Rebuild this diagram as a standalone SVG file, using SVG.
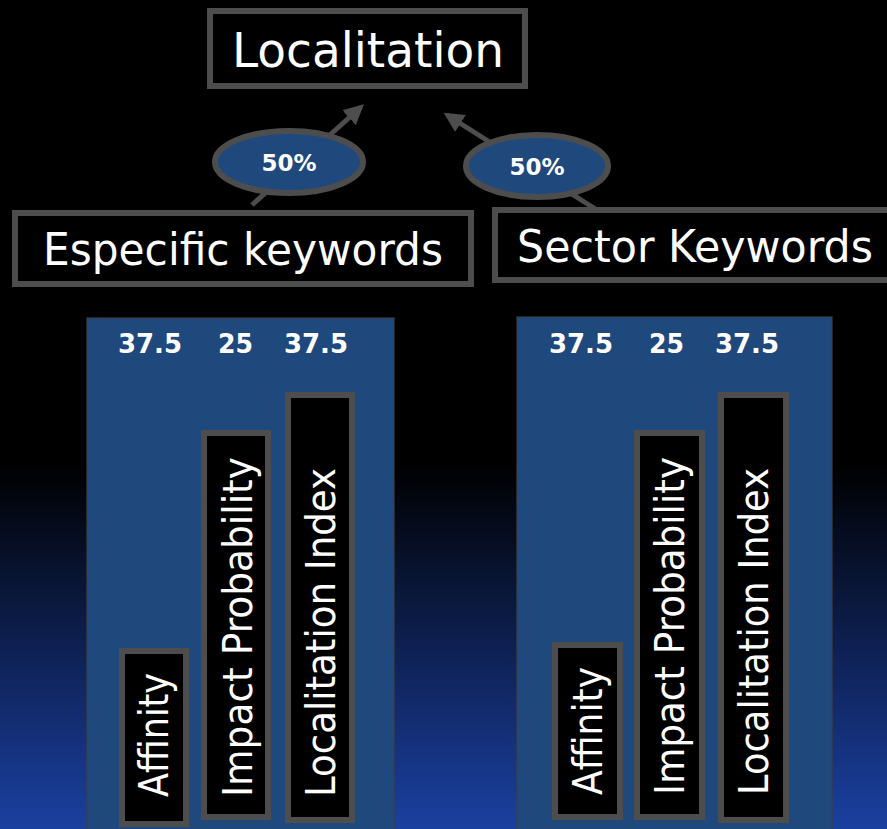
<svg xmlns="http://www.w3.org/2000/svg" width="887" height="829" viewBox="0 0 887 829">
  <defs>
    <linearGradient id="bg" x1="0" y1="0" x2="0" y2="1">
      <stop offset="0" stop-color="#000000"/>
      <stop offset="0.56" stop-color="#000000"/>
      <stop offset="0.8" stop-color="#0f2359"/>
      <stop offset="1" stop-color="#1a40a0"/>
    </linearGradient>
    <marker id="arrow" viewBox="0 0 10 10" refX="8" refY="5" markerWidth="4" markerHeight="4" orient="auto" markerUnits="strokeWidth">
      <path d="M0,0 L10,5 L0,10 Z" fill="#4d4d4d"/>
    </marker>
    <style>
      .box { fill: #000000; stroke: #4d4d4d; stroke-width: 6; }
      .panel { fill: #1f497d; stroke: #404040; stroke-width: 1.2; }
      .weight { fill: #1f497d; stroke: #4d4d4d; stroke-width: 6; }
      .title { font-family: "DejaVu Sans", Verdana, sans-serif; fill: #ffffff; }
      .num { font-family: "DejaVu Sans", Verdana, sans-serif; font-weight: bold; fill: #ffffff; font-size: 26px; }
      .pct { font-family: "DejaVu Sans", Verdana, sans-serif; font-weight: bold; fill: #ffffff; font-size: 23px; text-anchor: middle; }
      .bar { font-family: "DejaVu Sans", Verdana, sans-serif; fill: #ffffff; font-size: 40px; }
      .link { stroke: #4d4d4d; stroke-width: 5; fill: none; }
    </style>
  </defs>

  <rect x="0" y="0" width="887" height="829" fill="url(#bg)"/>

  <!-- connectors -->
  <g id="connectors">
    <line class="link" x1="252" y1="205" x2="361" y2="107" marker-end="url(#arrow)"/>
    <line class="link" x1="597" y1="210" x2="447" y2="115" marker-end="url(#arrow)"/>
  </g>

  <!-- top node -->
  <g id="localitation">
    <rect class="box" x="210" y="11" width="315" height="75"/>
    <text class="title" x="232" y="67" font-size="48" textLength="272" lengthAdjust="spacingAndGlyphs">Localitation</text>
  </g>

  <!-- weight badges -->
  <g id="weight-left">
    <ellipse class="weight" cx="289" cy="162" rx="74" ry="31"/>
    <text class="pct" x="289" y="171">50%</text>
  </g>
  <g id="weight-right">
    <ellipse class="weight" cx="537" cy="166" rx="71" ry="31"/>
    <text class="pct" x="537" y="175">50%</text>
  </g>

  <!-- keyword groups -->
  <g id="especific-keywords">
    <rect class="box" x="15" y="213" width="456" height="71"/>
    <text class="title" x="43" y="265" font-size="44" textLength="400" lengthAdjust="spacingAndGlyphs">Especific keywords</text>
  </g>
  <g id="sector-keywords">
    <rect class="box" x="495" y="210" width="400" height="70"/>
    <text class="title" x="517" y="262" font-size="44" textLength="356" lengthAdjust="spacingAndGlyphs">Sector Keywords</text>
  </g>

  <!-- left breakdown -->
  <g id="panel-especific">
    <rect class="panel" x="87" y="318" width="307" height="515"/>
    <text class="num" x="118" y="353" textLength="64" lengthAdjust="spacingAndGlyphs">37.5</text>
    <text class="num" x="218" y="353" textLength="35" lengthAdjust="spacingAndGlyphs">25</text>
    <text class="num" x="284" y="353" textLength="64" lengthAdjust="spacingAndGlyphs">37.5</text>
  </g>
  <g id="esp-affinity">
    <rect class="box" x="122" y="651" width="64" height="173"/>
    <text class="bar" transform="translate(168,797) rotate(-90)" textLength="124" lengthAdjust="spacingAndGlyphs">Affinity</text>
  </g>
  <g id="esp-impact">
    <rect class="box" x="204" y="433" width="64" height="384"/>
    <text class="bar" transform="translate(252,797) rotate(-90)" textLength="340" lengthAdjust="spacingAndGlyphs">Impact Probability</text>
  </g>
  <g id="esp-index">
    <rect class="box" x="288" y="395" width="64" height="425"/>
    <text class="bar" transform="translate(335,797) rotate(-90)" textLength="329" lengthAdjust="spacingAndGlyphs">Localitation Index</text>
  </g>

  <!-- right breakdown -->
  <g id="panel-sector">
    <rect class="panel" x="517" y="317" width="315" height="516"/>
    <text class="num" x="549" y="353" textLength="64" lengthAdjust="spacingAndGlyphs">37.5</text>
    <text class="num" x="649" y="353" textLength="35" lengthAdjust="spacingAndGlyphs">25</text>
    <text class="num" x="715" y="353" textLength="64" lengthAdjust="spacingAndGlyphs">37.5</text>
  </g>
  <g id="sec-affinity">
    <rect class="box" x="555" y="645" width="65" height="172"/>
    <text class="bar" transform="translate(602,795) rotate(-90)" textLength="128" lengthAdjust="spacingAndGlyphs">Affinity</text>
  </g>
  <g id="sec-impact">
    <rect class="box" x="637" y="433" width="65" height="384"/>
    <text class="bar" transform="translate(684,795) rotate(-90)" textLength="338" lengthAdjust="spacingAndGlyphs">Impact Probability</text>
  </g>
  <g id="sec-index">
    <rect class="box" x="721" y="395" width="65" height="425"/>
    <text class="bar" transform="translate(768,795) rotate(-90)" textLength="327" lengthAdjust="spacingAndGlyphs">Localitation Index</text>
  </g>
</svg>
